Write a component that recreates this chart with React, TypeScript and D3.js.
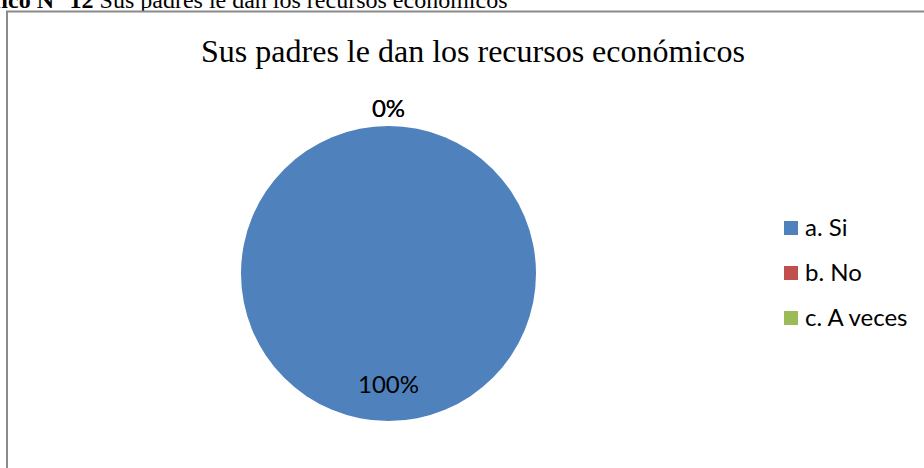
import * as d3 from "d3";
import { useEffect, useRef } from "react";

const categories = ["a. Si", "b. No", "c. A veces"];
const values = [100, 0, 0];
const colors = ["#4F81BD", "#C0504D", "#9BBB59"];

const width = 924;
const height = 468;

export default function App() {
  const svgRef = useRef<SVGSVGElement>(null);

  useEffect(() => {
    if (!svgRef.current) return;
    const svg = d3.select(svgRef.current);
    svg.selectAll("*").remove();

    // Caption above the frame (cut off on the left like the scan)
    const cap = svg
      .append("text")
      .attr("x", -48)
      .attr("y", 8)
      .style("font-family", "'Liberation Serif', 'Times New Roman', serif")
      .style("font-size", "24px")
      .style("fill", "#000");
    cap.append("tspan").style("font-weight", "bold").text("Gráfico N° 12");
    cap.append("tspan").text(" Sus padres le dan los recursos económicos");

    // Chart frame
    svg
      .append("rect")
      .attr("x", 7)
      .attr("y", 11.5)
      .attr("width", width + 20)
      .attr("height", height + 20)
      .attr("fill", "#fff")
      .attr("stroke", "#8a8a8a")
      .attr("stroke-width", 2);

    // Title
    svg
      .append("text")
      .attr("x", 473)
      .attr("y", 62)
      .attr("text-anchor", "middle")
      .style("font-family", "'Liberation Serif', 'Times New Roman', serif")
      .style("font-size", "32px")
      .style("fill", "#000")
      .text("Sus padres le dan los recursos económicos");

    const cx = 388.5;
    const cy = 273.5;
    const r = 147.5;

    const data = categories.map((c, i) => ({ name: c, value: values[i], color: colors[i] }));
    const total = d3.sum(values);

    const pie = d3
      .pie<{ name: string; value: number; color: string }>()
      .value((d) => d.value)
      .sort(null);
    const arcs = pie(data);

    const arc = d3.arc<d3.PieArcDatum<any>>().innerRadius(0).outerRadius(r);
    const labelArcIn = d3.arc<d3.PieArcDatum<any>>().innerRadius(r * 0.75).outerRadius(r * 0.75);
    const labelArcOut = d3.arc<d3.PieArcDatum<any>>().innerRadius(r * 1.12).outerRadius(r * 1.12);

    const g = svg.append("g").attr("transform", `translate(${cx},${cy})`);

    g.selectAll("path.slice")
      .data(arcs.filter((a) => a.value > 0))
      .enter()
      .append("path")
      .attr("class", "slice")
      .attr("d", arc)
      .attr("fill", (d) => d.data.color);

    g.selectAll("text.lbl")
      .data(arcs)
      .enter()
      .append("text")
      .attr("class", "lbl")
      .attr("transform", (d) => {
        const [x, y] = d.value > 0 ? labelArcIn.centroid(d) : labelArcOut.centroid(d);
        return `translate(${x},${y})`;
      })
      .attr("text-anchor", "middle")
      .attr("dy", "0.35em")
      .style("font-family", "Lato, 'Open Sans', sans-serif")
      .style("font-size", "24px")
      .style("fill", "#000")
      .text((d) => `${Math.round((d.value / total) * 100)}%`);

    // Legend
    const legend = svg.append("g").attr("transform", "translate(784,228)");
    const item = legend
      .selectAll("g")
      .data(data)
      .enter()
      .append("g")
      .attr("transform", (_, i) => `translate(0,${i * 45})`);
    item
      .append("rect")
      .attr("x", 0)
      .attr("y", -7)
      .attr("width", 14)
      .attr("height", 14)
      .attr("fill", (d) => d.color);
    item
      .append("text")
      .attr("x", 21)
      .attr("dy", "0.35em")
      .style("font-family", "Lato, 'Open Sans', sans-serif")
      .style("font-size", "24px")
      .style("fill", "#000")
      .text((d) => d.name);
  }, []);

  return (
    <svg
      ref={svgRef}
      width={width}
      height={height}
      style={{ position: "absolute", left: 0, top: 0, display: "block", background: "#fff" }}
    />
  );
}
